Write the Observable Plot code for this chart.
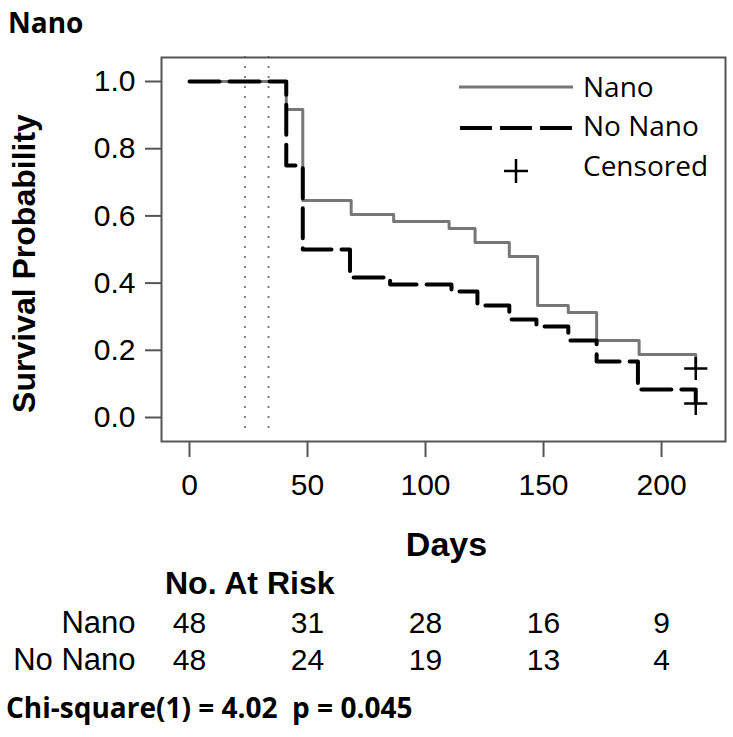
<!DOCTYPE html>
<html><head><meta charset="utf-8">
<script src="https://cdn.jsdelivr.net/npm/d3@7"></script>
<script src="https://cdn.jsdelivr.net/npm/@observablehq/plot@0.6"></script>
<style>
body{margin:0;background:#fff;}
#wrap{position:relative;width:733px;height:737px;overflow:hidden;background:#fff;font-family:"Liberation Sans",Arial,sans-serif;color:#000;}
.abs{position:absolute;white-space:pre;}
</style></head><body>
<div id="wrap"></div>
<script>
// ---- data ----
const nanoDays   = [0, 41, 48, 68.5, 86.5, 110, 121, 135.5, 147.5, 160.5, 172.5, 190.5, 214.5];
const nanoSurv   = [1, 0.917, 0.646, 0.604, 0.583, 0.5625, 0.521, 0.479, 0.333, 0.3125, 0.229, 0.1875, 0.146];
const noNanoDays = [0, 41, 48, 68, 85, 111, 122, 135.5, 147, 160.5, 172.5, 190, 214.5];
const noNanoSurv = [1, 0.75, 0.5, 0.417, 0.396, 0.375, 0.333, 0.292, 0.271, 0.229, 0.167, 0.083, 0.042];
const censorDays = [214.5, 214.5];
const censorSurv = [0.146, 0.042];
const refLineDays = [23.5, 33.5];
const xTicks = [0, 50, 100, 150, 200];
const yTicks = [0, 0.2, 0.4, 0.6, 0.8, 1.0];
const groups = ["Nano", "No Nano"];
const atRiskNano = [48, 31, 28, 16, 9];
const atRiskNoNano = [48, 24, 19, 13, 4];
const legendLabels = ["Nano", "No Nano", "Censored"];

const xDomain = [-11.86, 227.1];
const yDomain = [-0.0714, 1.0714];

const nanoData = nanoDays.map((d, i) => ({day: d, s: nanoSurv[i]}));
const noNanoData = noNanoDays.map((d, i) => ({day: d, s: noNanoSurv[i]}));
const censorData = censorDays.map((d, i) => ({day: d, s: censorSurv[i]}));
const riskRows = [];
xTicks.forEach((d, i) => {
  riskRows.push({day: d, group: groups[0], n: atRiskNano[i]});
  riskRows.push({day: d, group: groups[1], n: atRiskNoNano[i]});
});

const wrap = document.getElementById("wrap");

// title
const title = document.createElement("div");
title.className = "abs";
title.style.cssText = "left:8px;top:8px;font:bold 28px/28px 'Open Sans',sans-serif;";
title.textContent = "Nano";
wrap.appendChild(title);

// main chart
const chart = Plot.plot({
  width: 733, height: 525,
  marginTop: 17, marginBottom: 124, marginLeft: 161, marginRight: 8,
  style: {fontFamily: "'Liberation Sans', Arial, sans-serif", fontSize: "30px", background: "transparent"},
  x: {domain: xDomain},
  y: {domain: yDomain},
  marks: [
    Plot.ruleX(refLineDays, {stroke: "#666", strokeWidth: 2.2, strokeDasharray: "0,10", strokeLinecap: "round", insetBottom: 9}),
    Plot.line(nanoData, {x: "day", y: "s", curve: "step-after", stroke: "#777", strokeWidth: 3}),
    Plot.line(noNanoData, {x: "day", y: "s", curve: "step-after", stroke: "#000", strokeWidth: 4, strokeDasharray: "30,10"}),
    Plot.dot(censorData, {x: "day", y: "s", symbol: "plus", r: 7.5, stroke: "#000", strokeWidth: 2.5}),
    Plot.frame({stroke: "#555", strokeWidth: 2}),
    Plot.axisX({ticks: xTicks, tickSize: 16, tickPadding: 16, fontSize: 30, label: null, stroke: "#555", strokeWidth: 2, fill: "#000"}),
    Plot.axisY({ticks: yTicks, tickSize: 16, tickPadding: 10, tickFormat: ".1f", fontSize: 30, label: null, stroke: "#555", strokeWidth: 2, fill: "#000"}),
    Plot.text(["Days"], {text: d => d, frameAnchor: "bottom", dy: 104, dx: 3, lineAnchor: "middle", fontSize: 34, fontWeight: "bold"}),
    Plot.text(["Survival Probability"], {text: d => d, frameAnchor: "left", dx: -137, dy: 14, rotate: -90, lineAnchor: "middle", textAnchor: "middle", fontSize: 32, fontWeight: "bold"})
  ]
});
chart.style.position = "absolute";
chart.style.left = "0px";
chart.style.top = "40px";
wrap.appendChild(chart);

// legend overlay
const leg = d3.create("svg").attr("width", 733).attr("height", 737)
  .style("position", "absolute").style("left", "0px").style("top", "0px");
leg.append("line").attr("x1", 459).attr("x2", 573).attr("y1", 87).attr("y2", 87)
  .attr("stroke", "#777").attr("stroke-width", 3);
leg.append("line").attr("x1", 460).attr("x2", 572).attr("y1", 128).attr("y2", 128)
  .attr("stroke", "#000").attr("stroke-width", 4).attr("stroke-dasharray", "32,8");
leg.append("path").attr("d", "M504,171H528M516,159V183").attr("stroke", "#000").attr("stroke-width", 2.5);
leg.selectAll("text.l").data(legendLabels).join("text")
  .attr("x", 583).attr("y", (d, i) => [87, 126, 166][i])
  .attr("dy", "0.35em")
  .style("font", "28px 'Open Sans', sans-serif")
  .text(d => d);
wrap.appendChild(leg.node());

// at-risk header
const hdr = document.createElement("div");
hdr.className = "abs";
hdr.style.cssText = "left:165px;top:567px;font:bold 32px/32px 'Liberation Sans',Arial,sans-serif;";
hdr.textContent = "No. At Risk";
wrap.appendChild(hdr);

// at-risk table
const risk = Plot.plot({
  width: 733, height: 74,
  marginTop: 0, marginBottom: 0, marginLeft: 161, marginRight: 8,
  style: {fontFamily: "'Liberation Sans', Arial, sans-serif", fontSize: "30px", background: "transparent"},
  x: {domain: xDomain, axis: null},
  y: {type: "band", domain: groups, padding: 0},
  marks: [
    Plot.axisY({tickSize: 0, tickPadding: 26, fontSize: 31, label: null}),
    Plot.text(riskRows, {x: "day", y: "group", text: "n", fontSize: 30})
  ]
});
risk.style.position = "absolute";
risk.style.left = "0px";
risk.style.top = "604px";
wrap.appendChild(risk);

// chi-square caption
const cap = document.createElement("div");
cap.className = "abs";
cap.style.cssText = "left:6px;top:693px;font:bold 28px/28px 'Open Sans',sans-serif;";
cap.textContent = "Chi-square(1) = 4.02  p = 0.045";
wrap.appendChild(cap);
</script>
</body></html>
